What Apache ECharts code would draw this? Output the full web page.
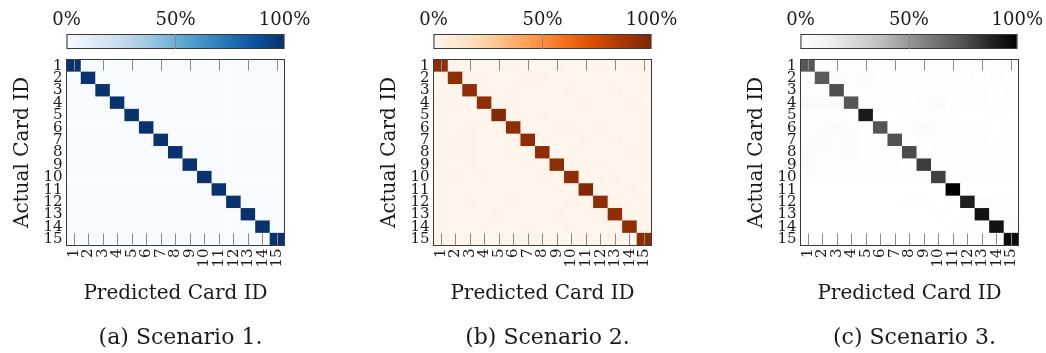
<!DOCTYPE html>
<html><head><meta charset="utf-8">
<script src="https://cdn.jsdelivr.net/npm/echarts@6/dist/echarts.min.js"></script>
<style>html,body{margin:0;padding:0;background:#fff}#c{width:1046px;height:353px}</style>
</head><body><div id="c"></div>
<script>
const cardIds = ['1','2','3','4','5','6','7','8','9','10','11','12','13','14','15'];
const colorbarTicks = [0, 50, 100];
const captions = ['(a) Scenario 1.', '(b) Scenario 2.', '(c) Scenario 3.'];
const xAxisTitle = 'Predicted Card ID';
const yAxisTitle = 'Actual Card ID';

// rows = actual card, columns = predicted card, values as fractions
const scenario1 = [
  [0.99,0,0,0,0,0,0,0,0,0,0,0,0,0,0],
  [0,0.99,0,0,0,0,0,0,0,0,0,0,0,0,0],
  [0,0,0.99,0,0,0,0,0,0,0,0,0,0,0,0],
  [0,0,0,0.99,0,0,0,0,0,0,0,0,0,0,0],
  [0,0,0,0,0.99,0,0,0,0,0,0,0,0,0,0],
  [0,0,0,0,0,0.99,0,0,0,0,0,0,0,0,0],
  [0,0,0,0,0,0,0.99,0,0,0,0,0,0,0,0],
  [0,0,0,0,0,0,0,0.99,0,0,0,0,0,0,0],
  [0,0,0,0,0,0,0,0,0.99,0,0,0,0,0,0],
  [0,0,0,0,0,0,0,0,0,0.99,0,0,0,0,0],
  [0,0,0,0,0,0,0,0,0,0,0.99,0,0,0,0],
  [0,0,0,0,0,0,0,0,0,0,0,0.99,0,0,0],
  [0,0,0,0,0,0,0,0,0,0,0,0,0.99,0,0],
  [0,0,0,0,0,0,0,0,0,0,0,0,0,0.99,0],
  [0,0,0,0,0,0,0,0,0,0,0,0,0,0,0.99]
];
const scenario2 = [
  [0.95,0.00,0.00,0.00,0.00,0.01,0.00,0.00,0.01,0.00,0.00,0.01,0.00,0.01,0.01],
  [0.00,0.95,0.01,0.01,0.00,0.00,0.01,0.01,0.00,0.00,0.00,0.00,0.00,0.00,0.01],
  [0.00,0.01,0.95,0.00,0.00,0.01,0.00,0.00,0.00,0.01,0.00,0.00,0.01,0.00,0.01],
  [0.01,0.01,0.00,0.95,0.00,0.01,0.00,0.00,0.00,0.00,0.01,0.00,0.00,0.01,0.00],
  [0.00,0.00,0.00,0.00,0.98,0.00,0.00,0.01,0.00,0.00,0.00,0.00,0.00,0.00,0.01],
  [0.00,0.00,0.01,0.00,0.00,0.95,0.00,0.00,0.01,0.01,0.00,0.01,0.00,0.00,0.01],
  [0.00,0.01,0.01,0.00,0.00,0.00,0.95,0.00,0.00,0.00,0.01,0.00,0.01,0.00,0.01],
  [0.00,0.01,0.01,0.00,0.00,0.01,0.00,0.95,0.00,0.00,0.00,0.00,0.00,0.01,0.01],
  [0.01,0.00,0.01,0.00,0.00,0.00,0.01,0.00,0.95,0.00,0.00,0.01,0.00,0.00,0.01],
  [0.00,0.01,0.00,0.01,0.00,0.00,0.00,0.01,0.00,0.95,0.00,0.00,0.01,0.00,0.01],
  [0.00,0.00,0.00,0.00,0.00,0.00,0.00,0.00,0.00,0.00,0.99,0.00,0.00,0.01,0.00],
  [0.00,0.00,0.01,0.00,0.00,0.01,0.00,0.00,0.00,0.01,0.00,0.95,0.01,0.00,0.01],
  [0.00,0.00,0.00,0.00,0.01,0.00,0.00,0.00,0.01,0.00,0.00,0.01,0.95,0.01,0.01],
  [0.00,0.00,0.00,0.01,0.00,0.00,0.01,0.00,0.00,0.01,0.00,0.00,0.01,0.95,0.01],
  [0.00,0.00,0.00,0.00,0.00,0.00,0.01,0.00,0.00,0.00,0.01,0.00,0.01,0.01,0.96]
];
const scenario3 = [
  [0.73,0.02,0.02,0.02,0.02,0.02,0.02,0.02,0.02,0.02,0.02,0.02,0.01,0.02,0.02],
  [0.03,0.72,0.03,0.02,0.03,0.02,0.02,0.02,0.02,0.02,0.02,0.02,0.00,0.02,0.01],
  [0.02,0.02,0.76,0.02,0.02,0.02,0.01,0.02,0.02,0.02,0.02,0.02,0.02,0.01,0.02],
  [0.04,0.04,0.03,0.73,0.01,0.01,0.01,0.01,0.02,0.03,0.01,0.02,0.02,0.01,0.01],
  [0.01,0.01,0.01,0.00,0.91,0.01,0.00,0.01,0.01,0.01,0.01,0.00,0.00,0.01,0.00],
  [0.02,0.02,0.03,0.02,0.01,0.74,0.01,0.02,0.03,0.02,0.02,0.02,0.02,0.00,0.02],
  [0.02,0.03,0.02,0.03,0.01,0.01,0.75,0.01,0.02,0.02,0.02,0.02,0.02,0.01,0.01],
  [0.03,0.02,0.02,0.03,0.01,0.02,0.01,0.77,0.01,0.02,0.02,0.01,0.01,0.01,0.01],
  [0.03,0.01,0.02,0.02,0.01,0.01,0.02,0.01,0.81,0.01,0.01,0.01,0.01,0.01,0.01],
  [0.02,0.02,0.02,0.01,0.01,0.02,0.01,0.02,0.01,0.80,0.01,0.01,0.01,0.01,0.02],
  [0.00,0.00,0.00,0.00,0.00,0.00,0.00,0.00,0.00,0.00,1.00,0.00,0.00,0.00,0.00],
  [0.00,0.00,0.00,0.00,0.00,0.00,0.00,0.01,0.01,0.00,0.01,0.90,0.03,0.02,0.02],
  [0.00,0.00,0.00,0.00,0.00,0.00,0.00,0.00,0.00,0.01,0.00,0.01,0.94,0.02,0.02],
  [0.00,0.00,0.00,0.00,0.00,0.00,0.00,0.00,0.00,0.00,0.01,0.01,0.01,0.94,0.03],
  [0.00,0.00,0.00,0.00,0.00,0.00,0.00,0.00,0.00,0.00,0.00,0.01,0.01,0.02,0.96]
];

const bluesColors = ['#f7fbff','#deebf7','#c6dbef','#9ecae1','#6baed6','#4292c6','#2171b5','#08519c','#08306b'];
const orangesColors = ['#fff5eb','#fee6ce','#fdd0a2','#fdae6b','#fd8d3c','#f16913','#d94801','#a63603','#7f2704'];
const greysColors = ['#ffffff','#f0f0f0','#d9d9d9','#bdbdbd','#969696','#737373','#525252','#252525','#000000'];

const panels = [
  {matrix: scenario1, colors: bluesColors, left: 66.5},
  {matrix: scenario2, colors: orangesColors, left: 433.5},
  {matrix: scenario3, colors: greysColors, left: 800.5}
];

const FONT = 'DejaVu Serif';
const TEXT = '#1a1a1a';
const FRAME = '#3a3a3a';
const TICK = '#8a8a8a';
const plotW = 218, plotTop = 59.5, plotH = 186;
const cbTop = 34, cbH = 15;

const grid = [], xAxis = [], yAxis = [], series = [], visualMap = [], title = [];

panels.forEach((p, k) => {
  const gHeat = grid.length;
  grid.push({left: p.left, top: plotTop, width: plotW, height: plotH});
  const gCb = grid.length;
  grid.push({left: p.left, top: cbTop, width: plotW, height: cbH});

  const xBottom = xAxis.length;
  xAxis.push({
    gridIndex: gHeat, type: 'category', data: cardIds, position: 'bottom', z: 10,
    axisLine: {show: true, lineStyle: {color: FRAME, width: 1}},
    axisTick: {show: true, inside: true, alignWithLabel: true, length: 12, lineStyle: {color: TICK}},
    axisLabel: {interval: 0, rotate: 90, margin: 3, fontFamily: FONT, fontSize: 15, color: TEXT},
    splitLine: {show: false},
    name: xAxisTitle, nameLocation: 'middle', nameGap: 38,
    nameTextStyle: {fontFamily: FONT, fontSize: 20, color: TEXT}
  });
  xAxis.push({
    gridIndex: gHeat, type: 'category', data: cardIds, position: 'top', z: 10,
    axisLine: {show: true, lineStyle: {color: FRAME, width: 1}},
    axisTick: {show: true, inside: true, alignWithLabel: true, length: 11, lineStyle: {color: TICK}},
    axisLabel: {show: false}, splitLine: {show: false}
  });
  const xCb = xAxis.length;
  xAxis.push({
    gridIndex: gCb, type: 'value', min: colorbarTicks[0], max: colorbarTicks[colorbarTicks.length - 1],
    interval: colorbarTicks[1] - colorbarTicks[0], position: 'top', z: 10,
    axisLine: {show: true, lineStyle: {color: FRAME, width: 1}},
    axisTick: {show: true, inside: true, length: cbH, lineStyle: {color: TICK}},
    axisLabel: {formatter: '{value}%', margin: 5, fontFamily: FONT, fontSize: 18, color: TEXT},
    splitLine: {show: false}
  });

  const yLeft = yAxis.length;
  yAxis.push({
    gridIndex: gHeat, type: 'category', data: cardIds, inverse: true, position: 'left', z: 10,
    axisLine: {show: true, lineStyle: {color: FRAME, width: 1}},
    axisTick: {show: false},
    axisLabel: {interval: 0, margin: 4, fontFamily: FONT, fontSize: 15, color: TEXT},
    splitLine: {show: false},
    name: yAxisTitle, nameLocation: 'middle', nameGap: 34, nameRotate: 90,
    nameTextStyle: {fontFamily: FONT, fontSize: 20, color: TEXT}
  });
  yAxis.push({
    gridIndex: gHeat, type: 'category', data: cardIds, inverse: true, position: 'right', z: 10,
    axisLine: {show: true, lineStyle: {color: FRAME, width: 1}},
    axisTick: {show: false}, axisLabel: {show: false}, splitLine: {show: false}
  });
  const yCb = yAxis.length;
  yAxis.push({
    gridIndex: gCb, type: 'category', data: [''],
    axisLine: {show: false}, axisTick: {show: false}, axisLabel: {show: false}, splitLine: {show: false}
  });

  const data = [];
  p.matrix.forEach((row, i) => row.forEach((v, j) => data.push([j, i, v])));
  const sIdx = series.length;
  series.push({
    type: 'heatmap', xAxisIndex: xBottom, yAxisIndex: yLeft, data: data,
    silent: true, itemStyle: {borderWidth: 0}, emphasis: {disabled: true}
  });
  visualMap.push({
    type: 'continuous', seriesIndex: sIdx, min: 0, max: 1, show: false,
    inRange: {color: p.colors}
  });
  const stops = p.colors.map((c, i) => ({offset: i / (p.colors.length - 1), color: c}));
  series.push({
    type: 'bar', xAxisIndex: xCb, yAxisIndex: yCb, data: [colorbarTicks[colorbarTicks.length - 1]],
    barWidth: '100%', silent: true,
    itemStyle: {
      color: {type: 'linear', x: 0, y: 0, x2: 1, y2: 0, colorStops: stops},
      borderColor: FRAME, borderWidth: 1
    }
  });

  title.push({
    text: captions[k], left: p.left + plotW / 2, top: 322, textAlign: 'center',
    textStyle: {fontFamily: FONT, fontSize: 22, fontWeight: 'normal', color: TEXT}
  });
});

const chart = echarts.init(document.getElementById('c'), null, {renderer: 'canvas'});
chart.setOption({animation: false, backgroundColor: '#ffffff', title, grid, xAxis, yAxis, visualMap, series});
</script>
</body></html>
